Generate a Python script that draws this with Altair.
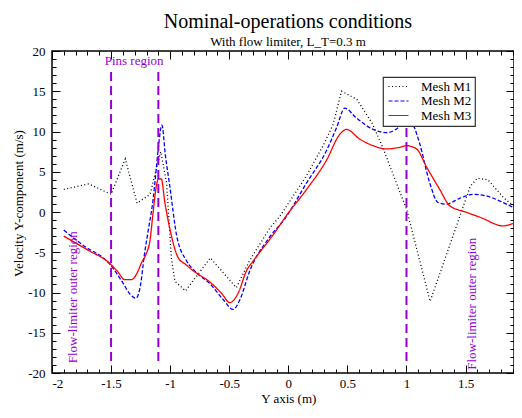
import altair as alt
import pandas as pd

# ---------------- data ----------------
series_names = ["Mesh M1", "Mesh M2", "Mesh M3"]
series_colors = ["#000000", "#0000ff", "#ff0000"]
series_dashes = [[1, 2.5], [4, 2], [1, 0]]

m1_x = [-1.9, -1.69, -1.5, -1.38, -1.28, -1.17, -1.08, -1.03, -0.99, -0.96, -0.87,
        -0.66, -0.44, -0.33, -0.157, -0.07, 0.15, 0.3, 0.38, 0.45, 0.58, 0.71, 0.8,
        0.92, 1.0, 1.2, 1.45, 1.54, 1.6, 1.69, 1.82, 1.96, 2.0]
m1_y = [2.8, 3.5, 2.2, 6.6, 1.1, 2.2, 7.5, 3.6, -5.7, -8.6, -9.8,
        -5.7, -9.4, -6.1, -2.0, -0.5, 4.4, 8.4, 10.9, 15.0, 14.0, 11.0, 8.0,
        3.4, 0.4, -11.1, -0.6, 3.2, 4.2, 4.0, 1.8, 0.1, -0.4]

m2_x = [-1.9, -1.74, -1.51, -1.4, -1.34, -1.29, -1.25, -1.22, -1.18, -1.144, -1.12,
        -1.1, -1.07, -1.04, -1.003, -0.946, -0.86, -0.78, -0.664, -0.55, -0.467,
        -0.41, -0.326, -0.157, -0.03, 0.154, 0.323, 0.408, 0.478, 0.577, 0.717,
        0.83, 0.943, 1.0, 1.056, 1.113, 1.197, 1.267, 1.338, 1.45, 1.563, 1.677,
        1.846, 1.958, 2.0]
m2_y = [-2.25, -4.1, -6.5, -8.8, -10.2, -10.7, -9.0, -5.5, -1.8, 1.6, 5.0,
        8.0, 10.8, 7.0, 3.2, -2.85, -6.1, -7.5, -8.9, -10.9, -12.1,
        -10.9, -7.3, -3.1, -0.84, 3.6, 7.63, 10.47, 12.9, 11.67, 10.26,
        9.86, 10.66, 11.87, 10.87, 8.44, 3.6, 1.18, 0.98, 1.7, 2.19, 1.99,
        0.98, 0.17, -0.1]

m3_x = [-1.9, -1.7, -1.51, -1.45, -1.383, -1.327, -1.284, -1.242, -1.2, -1.172,
        -1.144, -1.115, -1.1, -1.075, -1.045, -1.003, -0.932, -0.87, -0.805,
        -0.664, -0.565, -0.495, -0.425, -0.354, -0.298, -0.129, -0.015, 0.154,
        0.323, 0.436, 0.492, 0.605, 0.717, 0.83, 0.943, 1.0, 1.085, 1.169,
        1.282, 1.366, 1.507, 1.677, 1.733, 1.817, 1.958, 2.0]
m3_y = [-3.0, -4.7, -6.4, -7.3, -8.4, -8.4, -7.7, -6.3, -5.1, -3.66,
        0.0, 3.4, 4.1, 4.1, 1.2, -2.05, -5.68, -6.5, -7.3,
        -8.7, -10.1, -11.25, -10.1, -7.3, -6.1, -2.85, -0.43, 2.79,
        6.42, 9.65, 10.26, 9.05, 8.24, 7.84, 8.04, 8.24, 7.84, 5.62,
        2.79, 0.78, -0.03, -1.0, -1.4, -1.73, -1.1, -0.9]

region_lines_x = [-1.5, -1.1, 1.0]
region_lines_bottom = [-18.5, -18.5, -18.5]
region_lines_top = [18.0, 18.0, 13.0]

pins_label = ["Pins region"]
pins_x = [-1.305]
pins_y = [18.2]

outer_labels = ["Flow-limiter outer region", "Flow-limiter outer region"]
outer_x = [-1.819, 1.552]
outer_y = [-18.8, -19.6]

x_major = [-2, -1.5, -1, -0.5, 0, 0.5, 1, 1.5]
x_minor = [round(-2 + 0.1 * i, 1) for i in range(40) if i % 5 != 0]
y_major = [-20, -15, -10, -5, 0, 5, 10, 15, 20]
y_minor = [v for v in range(-20, 21) if v % 5 != 0]

# ---------------- tables ----------------
lines = pd.concat([
    pd.DataFrame({"x": m1_x, "y": m1_y, "s": series_names[0]}),
    pd.DataFrame({"x": m2_x, "y": m2_y, "s": series_names[1]}),
    pd.DataFrame({"x": m3_x, "y": m3_y, "s": series_names[2]}),
], ignore_index=True)
rules = pd.DataFrame({"x": region_lines_x, "y": region_lines_bottom, "y2": region_lines_top})
pins = pd.DataFrame({"x": pins_x, "y": pins_y, "t": pins_label})
outer = pd.DataFrame({"x": outer_x, "y": outer_y, "t": outer_labels})

FONT = "Liberation Serif"
PURPLE = "#9400D3"
xscale = alt.Scale(domain=[-2, 1.91], nice=False, zero=False)
yscale = alt.Scale(domain=[-20, 20], nice=False, zero=False)


def ax(orient, values, size, **kw):
    return alt.Axis(orient=orient, values=values, tickSize={"expr": str(-size)},
                    domain=False, grid=False, ticks=True, tickColor="black",
                    tickWidth=1, **kw)


LEG = dict(title=None, orient="none", legendX=331, legendY=26)
color = alt.Color("s:N", scale=alt.Scale(domain=series_names, range=series_colors),
                  legend=alt.Legend(**LEG))
dash = alt.StrokeDash("s:N", scale=alt.Scale(domain=series_names, range=series_dashes),
                      legend=alt.Legend(**LEG))

x_main = alt.X("x:Q", scale=xscale,
               axis=ax("bottom", x_major, 8, labels=True, labelPadding=12,
                       labelExpr="'' + datum.value", title="Y axis (m)",
                       titlePadding=2, titleX=236.3))
y_main = alt.Y("y:Q", scale=yscale,
               axis=ax("left", y_major, 8, labels=True, labelPadding=15,
                       labelExpr="'' + datum.value",
                       title="Velocity Y-component  (m/s)", titlePadding=2,
                       titleY=152))

m1_layer = alt.Chart(lines).transform_filter(alt.datum.s == series_names[0]).mark_line(
    interpolate="linear", strokeWidth=1.3, clip=True
).encode(x=x_main, y=y_main, color=color, strokeDash=dash, detail="s:N")

m23_layer = alt.Chart(lines).transform_filter(alt.datum.s != series_names[0]).mark_line(
    interpolate="monotone", strokeWidth=1.3, clip=True
).encode(x=alt.X("x:Q", scale=xscale, axis=None), y=alt.Y("y:Q", scale=yscale, axis=None),
         color=color, strokeDash=dash, detail="s:N")

rule_layer = alt.Chart(rules).mark_rule(color=PURPLE, strokeWidth=2, strokeDash=[9, 5]).encode(
    x=alt.X("x:Q", scale=xscale, axis=None),
    y=alt.Y("y:Q", scale=yscale, axis=None), y2="y2:Q")

pins_layer = alt.Chart(pins).mark_text(
    font=FONT, fontSize=13, color=PURPLE, align="center", baseline="alphabetic"
).encode(x=alt.X("x:Q", scale=xscale, axis=None), y=alt.Y("y:Q", scale=yscale, axis=None), text="t:N")

outer_layer = alt.Chart(outer).mark_text(
    font=FONT, fontSize=13, color=PURPLE, align="left", baseline="middle", angle=270
).encode(x=alt.X("x:Q", scale=xscale, axis=None), y=alt.Y("y:Q", scale=yscale, axis=None), text="t:N")

minor_lb = alt.Chart(lines).mark_point(opacity=0, size=1).encode(
    x=alt.X("x:Q", scale=xscale, axis=ax("bottom", x_minor, 4, labels=False, title=None)),
    y=alt.Y("y:Q", scale=yscale, axis=ax("left", y_minor, 4, labels=False, title=None)))
major_tr = alt.Chart(lines).mark_point(opacity=0, size=1).encode(
    x=alt.X("x:Q", scale=xscale, axis=ax("top", x_major, 8, labels=False, title=None)),
    y=alt.Y("y:Q", scale=yscale, axis=ax("right", y_major, 8, labels=False, title=None)))
minor_tr = alt.Chart(lines).mark_point(opacity=0, size=1).encode(
    x=alt.X("x:Q", scale=xscale, axis=ax("top", x_minor, 4, labels=False, title=None)),
    y=alt.Y("y:Q", scale=yscale, axis=ax("right", y_minor, 4, labels=False, title=None)))

chart = alt.layer(
    m1_layer, m23_layer, rule_layer, pins_layer, outer_layer, minor_lb, major_tr, minor_tr
).resolve_axis(x="independent", y="independent").properties(
    width=462, height=322,
    title=alt.TitleParams("Nominal-operations conditions",
                          subtitle="With flow limiter, L_T=0.3 m",
                          anchor="middle", dx=5),
    autosize=alt.AutoSizeParams(type="none"),
    padding={"left": 44, "top": 43, "right": 0, "bottom": 33},
).configure_view(stroke="black", strokeWidth=1.5).configure_axis(
    labelFont=FONT, labelFontSize=13, labelColor="black",
    titleFont=FONT, titleFontSize=13, titleFontWeight="normal", titleColor="black",
).configure_title(
    font=FONT, fontSize=20, fontWeight="normal", color="black",
    subtitleFont=FONT, subtitleFontSize=13, subtitleColor="black",
    subtitlePadding=3.5, offset=-3.5,
).configure_legend(
    labelFont=FONT, labelFontSize=13, labelColor="black",
    symbolType="M-1,0H4", symbolSize=64, symbolStrokeWidth=1.2, labelOffset=22,
    padding=3, rowPadding=0.5, fillColor="white", strokeColor="#333", strokeWidth=1.2,
)

chart.save("out.html", embed_options={"renderer": "svg", "actions": False})
